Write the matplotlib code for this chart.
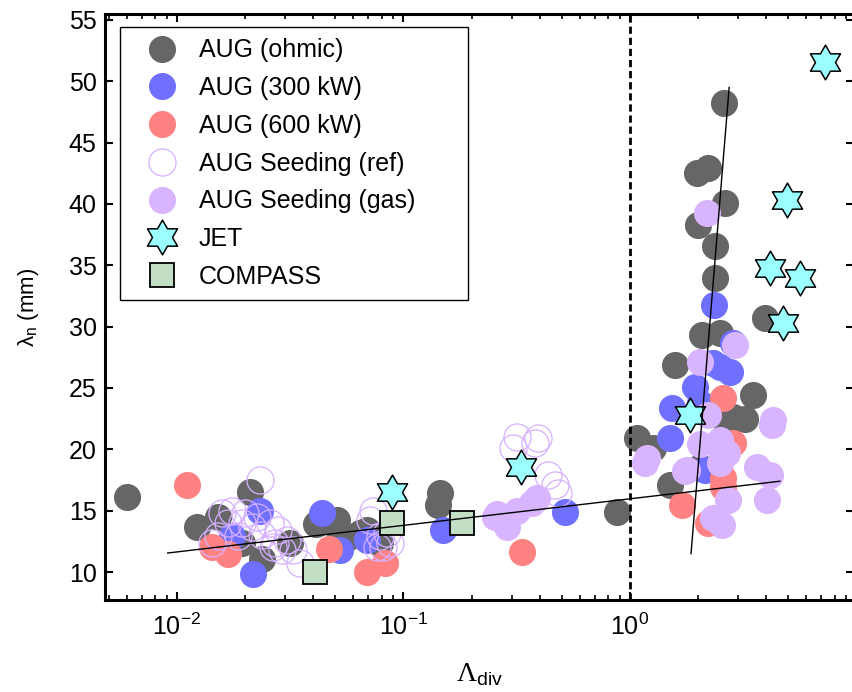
import matplotlib
matplotlib.use('Agg')
import matplotlib.pyplot as plt
from matplotlib.path import Path
from matplotlib.ticker import MultipleLocator

plt.rcParams['font.family'] = 'Liberation Sans'
plt.rcParams['mathtext.fontset'] = 'custom'
plt.rcParams['mathtext.rm'] = 'Liberation Sans'
plt.rcParams['mathtext.it'] = 'Liberation Sans:italic'
plt.rcParams['mathtext.sf'] = 'Liberation Serif'

# AUG ohmic
ohmic_x = [0.0060, 0.0123, 0.0152, 0.0194, 0.0210, 0.0237, 0.0316, 0.041, 0.0509, 0.051,
           0.0563, 0.0643, 0.069, 0.0764, 0.079, 0.145, 0.142, 0.876,
           2.60, 1.98, 2.21, 2.63, 2.00, 2.37, 2.37, 3.95, 2.08, 2.50, 1.58, 3.49,
           2.85, 3.22, 2.68, 1.07, 1.26, 2.04, 1.50]
ohmic_y = [16.1, 13.7, 14.5, 12.4, 16.5, 11.1, 12.4, 13.9, 13.7, 14.2,
           12.8, 13.2, 13.4, 12.9, 12.4, 16.4, 15.5, 14.9,
           48.2, 42.5, 42.9, 40.1, 38.3, 36.6, 34.0, 30.7, 29.3, 29.5, 26.9, 24.4,
           22.6, 22.5, 21.8, 20.9, 20.1, 18.6, 17.1]

# AUG 300 kW
p300_x = [0.0232, 0.0217, 0.0175, 0.0437, 0.0525, 0.069, 0.149, 0.516,
          2.35, 2.85, 2.33, 2.76, 2.50, 1.94, 1.53, 1.50, 2.14, 2.04]
p300_y = [15.0, 9.8, 12.9, 14.8, 11.8, 12.6, 13.4, 14.9,
          31.8, 28.7, 27.0, 26.3, 26.7, 25.1, 23.4, 20.9, 18.3, 23.8]

# AUG 600 kW
p600_x = [0.0111, 0.0143, 0.0168, 0.047, 0.069, 0.083, 0.334,
          2.57, 2.85, 2.57, 2.57, 1.70, 2.21]
p600_y = [17.1, 12.0, 11.5, 11.9, 10.0, 10.7, 11.6,
          24.2, 20.5, 17.7, 16.9, 15.5, 14.0]

# AUG seeding reference (open circles)
ref_x = [0.0232, 0.0158, 0.0175, 0.0200, 0.0226, 0.0168, 0.0194, 0.0214, 0.0152, 0.0143,
         0.0186, 0.0237, 0.0257, 0.0279, 0.0271, 0.0265, 0.0291, 0.0306, 0.0325, 0.0349,
         0.0733, 0.0711, 0.0788, 0.0811, 0.0764, 0.0845, 0.0871,
         0.317, 0.393, 0.304, 0.381, 0.435, 0.467, 0.481]
ref_y = [17.5, 14.8, 15.0, 14.8, 14.5, 14.0, 14.0, 13.7, 12.9, 12.4,
         12.9, 13.0, 14.0, 13.4, 12.4, 12.0, 11.8, 12.6, 11.8, 10.7,
         15.0, 14.2, 12.9, 12.0, 12.0, 13.2, 12.4,
         21.0, 20.9, 20.1, 20.5, 17.9, 17.1, 16.4]

# AUG seeding gas
gas_x = [0.254, 0.259, 0.286, 0.317, 0.369, 0.388,
         2.19, 2.91, 2.04, 2.21, 4.28, 4.24, 2.04, 2.42, 2.50, 2.68, 2.50, 1.17,
         1.19, 1.75, 1.79, 3.64, 4.15, 2.71, 4.03, 2.33, 2.55]
gas_y = [14.5, 14.7, 13.7, 15.0, 15.6, 16.0,
         39.3, 28.5, 27.1, 22.8, 22.4, 22.0, 20.4, 20.4, 20.8, 19.7, 18.9, 18.9,
         19.3, 18.2, 18.3, 18.6, 17.9, 15.9, 15.9, 14.4, 13.8]

jet_x = [7.26, 4.93, 4.15, 5.63, 4.74, 1.84, 0.330, 0.0889]
jet_y = [51.6, 40.3, 34.8, 34.0, 30.3, 22.8, 18.6, 16.5]

compass_x = [0.0407, 0.0889, 0.181]
compass_y = [10.0, 14.0, 14.0]

fit_low_x = [0.0091, 4.59]
fit_low_y = [11.55, 17.4]
fit_high_x = [1.86, 2.74]
fit_high_y = [11.5, 49.5]

labels = ['AUG (ohmic)', 'AUG (300 kW)', 'AUG (600 kW)', 'AUG Seeding (ref)',
          'AUG Seeding (gas)', 'JET', 'COMPASS']

hexagram = Path.unit_regular_star(6, 0.577)

fig = plt.figure(figsize=(8.52, 6.92), dpi=100)
ax = fig.add_axes([105 / 852, 92 / 692, 749 / 852, 586 / 692])
ax.set_xscale('log')

ms = 19.5
h1, = ax.plot(ohmic_x, ohmic_y, 'o', ms=ms, mfc='#666666', mew=0, ls='none')
h2, = ax.plot(p300_x, p300_y, 'o', ms=ms, mfc='#7070FF', mew=0, ls='none')
h3, = ax.plot(p600_x, p600_y, 'o', ms=ms, mfc='#FF8282', mew=0, ls='none')
h4, = ax.plot(ref_x, ref_y, 'o', ms=ms, mfc='none', mec='#D6B0FF', mew=0.9, ls='none')
h5, = ax.plot(gas_x, gas_y, 'o', ms=ms, mfc='#D9B4FF', mew=0, ls='none')
h6, = ax.plot(jet_x, jet_y, marker=hexagram, ms=25, mfc='#9CFFFF', mec='black', mew=1.1, ls='none')
h7, = ax.plot(compass_x, compass_y, 's', ms=17.5, mfc='#C2DEC4', mec='black', mew=1.3, ls='none')

ax.plot(fit_low_x, fit_low_y, color='black', lw=1.0, zorder=5)
ax.plot(fit_high_x, fit_high_y, color='black', lw=1.0, zorder=5)
ax.axvline(1.0, color='black', lw=2.0, ls=(0, (2.6, 1.4)), zorder=5)

ax.set_xlim(0.00481, 9.75)
ax.set_ylim(7.72, 55.48)
ax.yaxis.set_major_locator(MultipleLocator(5))

for s in ax.spines.values():
    s.set_linewidth(2.2)
ax.tick_params(which='both', direction='in', top=True, right=True, labelsize=18)
ax.tick_params(which='major', length=6, width=1.5, pad=6)
ax.tick_params(which='minor', length=3.5, width=1.2)
ax.tick_params(axis='x', which='major', pad=10)

ax.set_xlabel(r'$\mathsf{\Lambda}_{\rm div}$', fontsize=20)
ax.set_ylabel(r'$\mathrm{\lambda}_{\rm n}$ (mm)', fontsize=16)
ax.yaxis.set_label_coords(-0.085, 0.5)
ax.xaxis.set_label_coords(0.5, -0.105)

leg = ax.legend([h1, h2, h3, h4, h5, h6, h7], labels, loc='upper left',
                bbox_to_anchor=(0.020, 0.5, 0.4646, 0.4778), mode='expand',
                borderaxespad=0, fontsize=18, labelspacing=0.55, handlelength=2.5,
                handletextpad=0.21, borderpad=0.45, numpoints=1,
                fancybox=False, framealpha=1, edgecolor='black')
leg.get_frame().set_linewidth(1.0)

fig.savefig('out.png', dpi=100)
